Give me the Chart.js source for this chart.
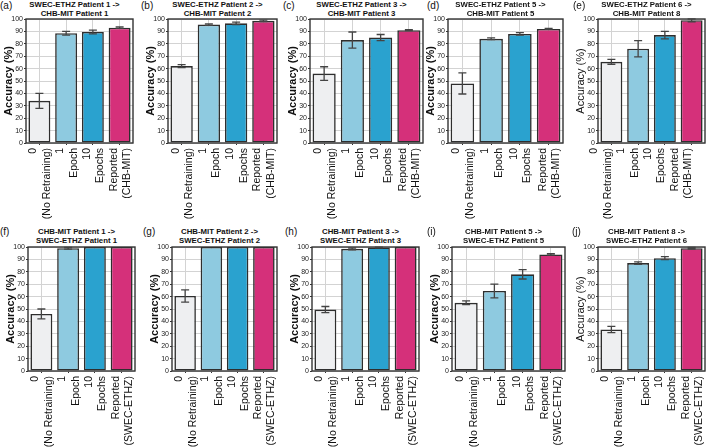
<!doctype html>
<html>
<head>
    <title>Cross-dataset retraining accuracy</title>
    <script src="https://cdn.jsdelivr.net/npm/chart.js@4/dist/chart.umd.min.js"></script>
    <style>
        body { margin: 0; background: #fff; }
        #wrap { position: relative; width: 706px; height: 448px; overflow: hidden; font-family: "Liberation Sans", Arial, sans-serif; }
        #wrap canvas { position: absolute; }
        .letter { position: absolute; font-size: 10px; line-height: 11px; color: #111; }
        .ptitle { position: absolute; font-size: 7.8px; font-weight: bold; line-height: 9px; text-align: center; white-space: nowrap; color: #111; }
    </style>
</head>
<body>
<div id="wrap"></div>
<script>
// ---- data ----
var letters = ['(a)', '(b)', '(c)', '(d)', '(e)', '(f)', '(g)', '(h)', '(i)', '(j)'];
var titles = [
    ['SWEC-ETHZ Patient 1 ->', 'CHB-MIT Patient 1'],
    ['SWEC-ETHZ Patient 2 ->', 'CHB-MIT Patient 2'],
    ['SWEC-ETHZ Patient 3 ->', 'CHB-MIT Patient 3'],
    ['SWEC-ETHZ Patient 5 ->', 'CHB-MIT Patient 5'],
    ['SWEC-ETHZ Patient 6 ->', 'CHB-MIT Patient 8'],
    ['CHB-MIT Patient 1 ->', 'SWEC-ETHZ Patient 1'],
    ['CHB-MIT Patient 2 ->', 'SWEC-ETHZ Patient 2'],
    ['CHB-MIT Patient 3 ->', 'SWEC-ETHZ Patient 3'],
    ['CHB-MIT Patient 5 ->', 'SWEC-ETHZ Patient 5'],
    ['CHB-MIT Patient 8 ->', 'SWEC-ETHZ Patient 6']
];
var labelsTop = [['0', '(No Retraining)'], ['1', 'Epoch'], ['10', 'Epochs'], ['Reported', '(CHB-MIT)']];
var labelsBottom = [['0', '(No Retraining)'], ['1', 'Epoch'], ['10', 'Epochs'], ['Reported', '(SWEC-ETHZ)']];
var accuracy = [
    [34, 88.5, 89.5, 93],
    [62, 95.5, 96.5, 98.5],
    [56, 83, 85, 91],
    [48, 84, 88, 92],
    [65.5, 76, 87, 99],
    [46, 99, 100, 100],
    [60.5, 100, 100, 100],
    [49.5, 98.5, 99.6, 100],
    [55, 64.5, 78, 94],
    [33.5, 87, 91, 99]
];
var errors = [
    [6, 1.5, 1.5, 0.6],
    [1.2, 0.6, 1, 0.6],
    [5.5, 6.5, 2.5, 0.4],
    [8.5, 0.7, 1, 0.4],
    [2, 6.5, 3, 1.2],
    [4, 0.7, 0, 0],
    [5, 0, 0, 0],
    [2.5, 0.7, 0.3, 0],
    [1.5, 5.5, 3.8, 0.6],
    [2.5, 1, 1.2, 0.6]
];
var barColors = ['#eeeff1', '#8ecae0', '#2aa2cf', '#d5307a'];

// ---- panel geometry ----
var plotLeft  = [26, 168, 310, 448, 598, 28, 172, 312, 452, 598];
var plotRight = [133, 277, 423, 563, 705, 135, 277, 419, 565, 705];
var letterX   = [0, 141, 283, 427, 573, 0, 143, 285, 427, 572];
var yTitleBold = [true, true, true, true, false, true, true, true, true, false];
var FONT = '"Liberation Sans", Arial, sans-serif';

// box round the plot area
var framePlugin = {
    id: 'frame',
    afterDatasetsDraw: function(chart) {
        var a = chart.chartArea, ctx = chart.ctx;
        ctx.save();
        ctx.strokeStyle = '#333';
        ctx.lineWidth = 1.4;
        ctx.strokeRect(a.left, a.top, a.right - a.left, a.bottom - a.top);
        ctx.restore();
    }
};

// symmetric error bars
var errPlugin = {
    id: 'errBars',
    afterDatasetsDraw: function(chart) {
        var ds = chart.data.datasets[0];
        var meta = chart.getDatasetMeta(0);
        var y = chart.scales.y;
        var ctx = chart.ctx;
        ctx.save();
        ctx.strokeStyle = '#444';
        ctx.lineWidth = 1.3;
        meta.data.forEach(function(bar, k) {
            var e = ds.errors[k];
            if (!e) return;
            var v = ds.data[k];
            var yTop = y.getPixelForValue(Math.min(100, v + e));
            var yBot = y.getPixelForValue(v - e);
            ctx.beginPath();
            ctx.moveTo(bar.x, yTop); ctx.lineTo(bar.x, yBot);
            ctx.moveTo(bar.x - 4, yTop); ctx.lineTo(bar.x + 4, yTop);
            ctx.moveTo(bar.x - 4, yBot); ctx.lineTo(bar.x + 4, yBot);
            ctx.stroke();
        });
        ctx.restore();
    }
};

function makePanel(i) {
    var wrap = document.getElementById('wrap');
    var bottomRow = i >= 5;
    var rowTop = bottomRow ? 224 : 0;
    var cLeft = plotLeft[i] - 26;
    var cWidth = plotRight[i] - cLeft + 1;

    var lt = document.createElement('div');
    lt.className = 'letter';
    lt.style.left = letterX[i] + 'px';
    lt.style.top = (rowTop + (bottomRow ? 2 : 0)) + 'px';
    lt.textContent = letters[i];
    wrap.appendChild(lt);

    var tt = document.createElement('div');
    tt.className = 'ptitle';
    var mid = (plotLeft[i] + plotRight[i]) / 2 - 5;
    tt.style.left = (mid - 60) + 'px';
    tt.style.width = '120px';
    tt.style.top = (rowTop + (bottomRow ? 3 : 0)) + 'px';
    tt.innerHTML = titles[i][0].replace('>', '&gt;') + '<br>' + titles[i][1];
    wrap.appendChild(tt);

    var cv = document.createElement('canvas');
    cv.width = cWidth;
    cv.height = 224;
    cv.style.left = cLeft + 'px';
    cv.style.top = rowTop + 'px';
    wrap.appendChild(cv);

    new Chart(cv.getContext('2d'), {
        type: 'bar',
        data: {
            labels: bottomRow ? labelsBottom : labelsTop,
            datasets: [{
                data: accuracy[i],
                errors: errors[i],
                backgroundColor: barColors,
                borderColor: '#2e2e2e',
                borderWidth: 1.6,
                borderSkipped: false,
                barPercentage: 0.82,
                categoryPercentage: 1
            }]
        },
        options: {
            responsive: false,
            animation: false,
            events: [],
            layout: { padding: { top: bottomRow ? 23 : 19, right: 1, left: 0, bottom: 0 } },
            plugins: { legend: { display: false }, tooltip: { enabled: false } },
            scales: {
                x: {
                    grid: { color: '#d3d3d3', offset: false, tickLength: 2, tickColor: '#333' },
                    border: { display: false },
                    ticks: {
                        font: { size: 10.5, family: FONT, lineHeight: 1.3 },
                        color: '#111',
                        maxRotation: 90, minRotation: 90,
                        padding: 3,
                        autoSkip: false,
                        labelOffset: i === 4 ? -17 : -6
                    },
                    afterFit: function(s) { s.height = bottomRow ? 77 : 81; s.paddingLeft = 0; s.paddingRight = 0; }
                },
                y: {
                    min: 0, max: 100,
                    ticks: { stepSize: 10, font: { size: 7, family: FONT }, color: '#222', padding: 1 },
                    grid: { color: '#d3d3d3', tickLength: 2, tickColor: '#333' },
                    border: { display: false },
                    title: {
                        display: true, text: 'Accuracy (%)', color: '#111',
                        font: { size: 11, family: FONT, weight: yTitleBold[i] ? 'bold' : 'normal', lineHeight: 1 },
                        padding: { top: 3, bottom: 0 }
                    },
                    afterFit: function(s) { s.width = 26; }
                }
            }
        },
        plugins: [framePlugin, errPlugin]
    });
}

for (var p = 0; p < 10; p++) makePanel(p);
</script>
</body>
</html>
